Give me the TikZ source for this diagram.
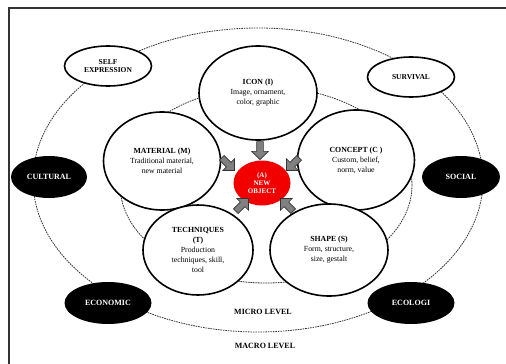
\documentclass[tikz,border=0pt]{standalone}
\usepackage{fontspec}
\setmainfont{Liberation Serif}
\usetikzlibrary{shapes.geometric}
\usetikzlibrary{shapes.arrows}

\tikzset{
  ring/.style = {draw=black!80, line width=0.8pt, dash pattern=on 1.6pt off 0.9pt},
  goalnode/.style = {ellipse, draw, line width=1.6pt, fill=white, inner sep=0pt, align=center,
    minimum width=87pt, minimum height=40pt, font=\fontsize{7.5}{8.5}\selectfont\bfseries},
  forcenode/.style = {ellipse, fill=black, text=white, inner sep=0pt, align=center,
    minimum width=87pt, minimum height=42pt, font=\fontsize{8}{9}\selectfont\bfseries},
  aspectnode/.style = {ellipse, draw, line width=1.6pt, fill=white, inner sep=0pt, align=center,
    font=\fontsize{7.8}{10}\selectfont},
  corenode/.style = {ellipse, fill=red!95!black, text=white, inner sep=0pt, align=center,
    minimum width=57pt, minimum height=45pt, font=\fontsize{7}{8}\selectfont\bfseries},
  pusharrow/.style = {single arrow, draw=black!80, fill=gray, line width=0.6pt, inner sep=3pt,
    single arrow head extend=5pt, minimum height=18pt},
}

\begin{document}
\begin{tikzpicture}[x=1pt, y=-1pt]
\useasboundingbox (0,0) rectangle (506,364);
\draw[black!80, line width=1.2pt] (506,8) -- (9,8) -- (9,364);

% macro and micro level
\draw[ring] (258,180) ellipse [x radius=225, y radius=152];
\draw[ring] (266,185) ellipse [x radius=146, y radius=98];

\node[goalnode] (self) at (108,66) {SELF\\EXPRESSION};
\node[goalnode] (surv) at (411,77) {SURVIVAL};
\node[forcenode, minimum width=76pt] (cult) at (49,177) {CULTURAL};
\node[forcenode, minimum width=78pt] (soc) at (461,177) {SOCIAL};
\node[forcenode] (econ) at (108,303) {ECONOMIC};
\node[forcenode] (ecol) at (411,303) {ECOLOGI};

\node[aspectnode, minimum width=118pt, minimum height=94pt] (icon) at (258,93)
  {\textbf{ICON (I)}\\Image, ornament,\\color, graphic};
\node[aspectnode, minimum width=117pt, minimum height=98pt] (mat) at (162,161)
  {\textbf{MATERIAL (M)}\\Traditional material,\\new material};
\node[aspectnode, minimum width=117pt, minimum height=100pt] (conc) at (356,160)
  {\textbf{CONCEPT (C )}\\Custom, belief,\\norm, value};
\node[aspectnode, minimum width=110pt, minimum height=90pt] (tech) at (198,250)
  {\textbf{TECHNIQUES}\\\textbf{(T)}\\Production\\techniques, skill,\\tool};
\node[aspectnode, minimum width=118pt, minimum height=92pt] (shape) at (329,250)
  {\textbf{SHAPE (S)}\\Form, structure,\\size, gestalt};

\node[corenode] (obj) at (262,183) {(A)\\NEW\\OBJECT};

% block arrows into the new object
\foreach \name/\pos/\ang in {picon/{260,149}/-90, pmat/{227,163}/-45, pconc/{294,163}/-135,
    ptech/{241,206}/45, pshape/{288,206}/135}
  \node[pusharrow, rotate=\ang] (\name) at (\pos) {};

\node[font=\fontsize{8}{9}\selectfont\bfseries] (micro) at (263,312) {MICRO LEVEL};
\node[font=\fontsize{8}{9}\selectfont\bfseries] (macro) at (265,346) {MACRO LEVEL};
\end{tikzpicture}
\end{document}
